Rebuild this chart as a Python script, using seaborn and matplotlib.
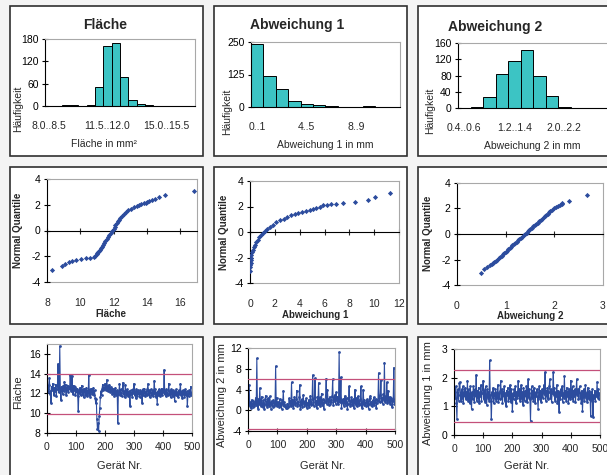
import matplotlib
matplotlib.use("Agg")
import matplotlib.pyplot as plt
import seaborn as sns
from matplotlib.patches import Rectangle

W, H = 607, 475

# --- histogram data -------------------------------------------------------
flaeche_edges = [8.0, 8.5, 9.0, 9.5, 10.0, 10.5, 11.0, 11.5, 12.0, 12.5,
                 13.0, 13.5, 14.0, 14.5, 15.0, 15.5, 16.0, 16.5, 17.0]
flaeche_counts = [1, 0, 2, 2, 1, 3, 50, 160, 168, 77, 15, 5, 2, 1, 1, 0, 0, 1]

abw1_edges = [0, 1, 2, 3, 4, 5, 6, 7, 8, 9, 10, 11, 12]
abw1_counts = [243, 120, 69, 24, 11, 6, 2, 1, 1, 2, 1, 1]

abw2_edges = [0.4, 0.6, 0.8, 1.0, 1.2, 1.4, 1.6, 1.8, 2.0, 2.2, 2.4, 2.6, 2.8]
abw2_counts = [1, 3, 26, 84, 115, 142, 79, 30, 3, 1, 0, 1]

# --- normal quantile plots ------------------------------------------------
qq_flaeche_x = [8.28, 8.9, 9.1, 9.3, 9.5, 9.75, 10.05, 10.35, 10.6, 10.8,
                10.9, 10.97, 11.02, 11.06, 11.11, 11.16, 11.22, 11.28, 11.35, 11.42,
                11.5, 11.57, 11.64, 11.73, 11.82, 11.92, 11.99, 12.05, 12.11, 12.17,
                12.24, 12.3, 12.37, 12.48, 12.6, 12.73, 12.88, 13.05, 13.22, 13.38,
                13.52, 13.67, 13.82, 13.92, 14.0, 14.1, 14.3, 14.48, 14.75, 15.08, 16.8]
qq_flaeche_y = [-3.08, -2.75, -2.58, -2.46, -2.37, -2.29, -2.23, -2.17, -2.12, -2.07,
                -2.0, -1.86, -1.78, -1.7, -1.6, -1.5, -1.38, -1.25, -1.1, -0.95,
                -0.8, -0.65, -0.5, -0.35, -0.2, -0.05, 0.1, 0.25, 0.4, 0.55,
                0.7, 0.85, 1.0, 1.15, 1.3, 1.45, 1.58, 1.7, 1.8, 1.88,
                1.95, 2.02, 2.1, 2.17, 2.23, 2.29, 2.37, 2.46, 2.58, 2.75, 3.08]

qq_abw1_x = [0.02, 0.03, 0.04, 0.05, 0.07, 0.09, 0.12, 0.16, 0.22, 0.3,
             0.38, 0.5, 0.62, 0.76, 0.9, 1.05, 1.2, 1.4, 1.6, 1.85,
             2.1, 2.4, 2.7, 3.0, 3.3, 3.6, 3.9, 4.2, 4.55, 4.85,
             5.1, 5.35, 5.6, 5.9, 6.2, 6.55, 6.95, 7.5, 8.42, 9.5, 10.05, 11.28]
qq_abw1_y = [-3.08, -2.75, -2.58, -2.4, -2.2, -2.0, -1.8, -1.6, -1.4, -1.2,
             -1.0, -0.8, -0.6, -0.4, -0.25, -0.1, 0.1, 0.27, 0.4, 0.58,
             0.76, 0.92, 1.05, 1.2, 1.33, 1.43, 1.48, 1.54, 1.64, 1.73,
             1.82, 1.91, 2.0, 2.08, 2.14, 2.2, 2.23, 2.29, 2.37, 2.5, 2.72, 3.06]

qq_abw2_x = [0.49, 0.56, 0.61, 0.67, 0.71, 0.74, 0.77, 0.8, 0.83, 0.86,
             0.88, 0.92, 0.94, 0.97, 1.0, 1.03, 1.05, 1.08, 1.11, 1.14,
             1.17, 1.2, 1.23, 1.25, 1.28, 1.31, 1.34, 1.37, 1.4, 1.43,
             1.46, 1.48, 1.51, 1.54, 1.57, 1.6, 1.63, 1.66, 1.69, 1.72,
             1.75, 1.78, 1.8, 1.83, 1.86, 1.89, 1.92, 1.95, 1.99, 2.03,
             2.08, 2.12, 2.15, 2.16, 2.3, 2.67]
qq_abw2_y = [-3.08, -2.75, -2.58, -2.46, -2.37, -2.29, -2.2, -2.1, -2.0, -1.9,
             -1.8, -1.7, -1.6, -1.5, -1.4, -1.3, -1.2, -1.1, -1.0, -0.9,
             -0.8, -0.7, -0.6, -0.5, -0.4, -0.3, -0.2, -0.1, 0.0, 0.1,
             0.2, 0.3, 0.4, 0.5, 0.6, 0.7, 0.8, 0.9, 1.0, 1.1,
             1.2, 1.3, 1.4, 1.5, 1.6, 1.7, 1.8, 1.9, 2.0, 2.1,
             2.2, 2.29, 2.37, 2.46, 2.58, 3.08]

# --- run charts (every second device) -------------------------------------
geraet = list(range(2, 501, 2))

run_flaeche = [
    12.4, 12.1, 12.9, 13.6, 12.2, 11.9, 11.0, 12.7, 12.3, 13.0,
    12.5, 11.8, 12.6, 12.2, 12.9, 11.7, 12.4, 12.8, 15.0, 12.1,
    12.6, 16.8, 12.3, 11.3, 12.7, 12.5, 11.9, 12.8, 12.2, 13.2,
    12.4, 12.9, 11.8, 12.6, 12.3, 12.8, 12.1, 12.7, 12.4, 13.9,
    12.6, 12.2, 13.8, 12.5, 11.9, 12.8, 12.3, 12.7, 11.8, 12.4,
    12.1, 12.5, 11.7, 10.2, 12.3, 12.0, 12.6, 11.8, 12.2, 12.8,
    11.9, 12.4, 11.6, 12.2, 12.5, 11.8, 12.1, 12.6, 11.7, 12.3,
    12.0, 13.9, 11.8, 12.4, 11.6, 12.2, 12.5, 11.9, 12.1, 12.6,
    11.8, 12.3, 11.5, 11.0, 11.4, 9.4, 8.4, 9.0, 8.2, 9.7,
    10.5, 11.6, 12.2, 11.8, 12.5, 12.9, 12.3, 12.6, 12.4, 13.0,
    12.7, 12.3, 13.4, 12.8, 12.2, 12.6, 12.9, 12.4, 12.1, 12.7,
    12.3, 11.9, 12.5, 12.0, 12.4, 11.7, 12.2, 12.6, 11.8, 12.1,
    12.3, 9.0, 11.9, 12.2, 13.0, 11.8, 12.4, 12.0, 11.7, 12.3,
    13.1, 11.9, 12.2, 11.6, 12.9, 12.1, 11.8, 12.4, 12.0, 11.7,
    12.2, 11.8, 10.7, 12.3, 11.9, 12.1, 11.6, 12.4, 12.0, 13.0,
    11.8, 12.2, 11.5, 12.4, 12.0, 11.7, 12.3, 11.9, 12.1, 11.6,
    12.3, 11.9, 12.2, 11.0, 12.4, 11.8, 12.1, 12.5, 11.7, 12.0,
    12.2, 11.8, 12.4, 13.0, 11.9, 12.3, 11.6, 12.1, 12.4, 11.8,
    12.0, 12.3, 11.7, 12.2, 13.3, 11.9, 12.4, 11.6, 12.1, 10.9,
    12.2, 11.8, 12.4, 12.0, 11.7, 12.3, 11.9, 12.5, 11.8, 12.1,
    12.3, 14.4, 11.9, 12.2, 11.7, 12.4, 12.0, 11.8, 12.3, 13.0,
    11.9, 12.2, 11.6, 12.4, 12.0, 11.8, 12.3, 11.7, 12.1, 11.2,
    12.2, 11.8, 12.4, 11.9, 12.1, 11.6, 12.3, 11.9, 12.2, 13.0,
    11.8, 12.2, 11.5, 12.3, 11.9, 12.1, 11.6, 12.4, 11.8, 12.0,
    12.2, 10.7, 12.0, 11.7, 12.3, 11.9, 12.1, 12.7, 11.8, 12.0,
]

run_abw_gross = [
    1.2, 4.8, 0.8, 1.5, 0.4, 2.0, 1.1, 0.7, 1.8, 1.3,
    0.9, 1.6, 2.4, 1.0, 10.0, 1.4, 0.3, 2.2, 1.2, 4.3,
    1.5, 0.8, 2.6, 1.1, 0.6, 1.9, 1.3, 0.2, 2.1, 2.8,
    1.0, 1.7, 0.6, 2.3, 1.2, 0.8, 2.7, 1.4, 0.3, 1.8,
    1.1, 0.7, 2.0, 1.5, 0.8, 1.3, 8.5, 1.0, 2.4, 0.9,
    1.6, 0.7, 1.2, 2.2, 0.9, 1.4, 0.3, 1.9, 1.1, 3.8,
    0.8, 1.5, 1.0, 0.5, 0.7, 0.4, 1.3, 0.6, 0.9, 2.3,
    1.2, 1.8, 0.9, 5.4, 1.1, 2.0, 0.4, 1.5, 2.6, 1.0,
    1.4, 2.2, 3.8, 0.9, 1.6, 1.1, 2.5, 4.9, 0.3, 1.3,
    2.1, 0.7, 1.5, 3.0, 1.2, 0.9, 1.8, 1.0, 2.3, 0.5,
    1.4, 1.1, 2.0, 0.7, 1.6, 2.8, 1.0, 1.3, 2.2, 6.8,
    1.5, 0.9, 2.4, 6.2, 1.1, 1.8, 0.4, 2.6, 1.3, 5.3,
    1.2, 2.5, 0.9, 1.7, 3.2, 1.0, 2.1, 1.4, 0.3, 1.9,
    1.6, 2.9, 6.1, 1.3, 4.0, 2.2, 1.0, 1.8, 2.6, 1.2,
    2.0, 1.5, 2.8, 6.0, 1.1, 2.4, 1.7, 3.0, 1.3, 3.5,
    1.8, 2.6, 1.2, 2.0, 11.2, 1.5, 2.3, 6.4, 0.5, 1.9,
    1.4, 2.2, 0.9, 1.7, 2.8, 1.1, 1.6, 2.4, 0.3, 1.3,
    2.0, 4.6, 1.2, 0.9, 1.8, 2.5, 1.0, 1.5, 2.1, 0.4,
    1.6, 4.0, 1.1, 2.3, 0.9, 1.4, 2.7, 1.0, 1.8, 1.2,
    2.2, 4.6, 1.3, 0.4, 1.7, 4.0, 1.1, 2.0, 1.4, 0.8,
    1.5, 2.1, 1.0, 1.8, 0.3, 1.3, 2.4, 2.8, 1.1, 1.6,
    0.9, 1.9, 1.2, 2.5, 1.0, 1.6, 2.2, 0.4, 1.4, 2.0,
    1.7, 7.2, 2.3, 1.5, 2.9, 5.8, 1.8, 2.4, 1.3, 3.1,
    2.0, 9.2, 1.6, 2.7, 1.9, 5.4, 1.4, 3.8, 2.2, 1.5,
    2.6, 1.2, 1.9, 2.4, 0.6, 1.7, 2.1, 8.2, 1.3, 1.6,
]

run_abw_fein = [
    1.5, 1.3, 1.7, 1.1, 0.55, 1.6, 1.4, 1.2, 1.8, 1.85,
    1.4, 1.2, 1.6, 1.3, 1.7, 1.1, 1.5, 1.35, 1.65, 1.25,
    1.5, 1.3, 1.9, 1.2, 1.6, 1.4, 1.1, 1.7, 1.3, 0.9,
    1.5, 1.25, 1.7, 1.4, 1.15, 1.6, 1.35, 2.1, 1.2, 1.55,
    1.3, 1.65, 1.1, 1.5, 1.35, 1.75, 1.2, 1.45, 1.6, 1.9,
    1.25, 1.55, 1.15, 1.7, 1.4, 1.05, 1.6, 1.3, 1.5, 1.2,
    2.6, 1.4, 1.2, 0.55, 1.5, 1.3, 1.65, 1.1, 1.45, 1.35,
    1.6, 1.2, 1.5, 1.3, 1.75, 1.15, 1.45, 1.25, 1.55, 1.9,
    1.3, 1.6, 1.1, 1.5, 1.35, 1.7, 1.2, 1.45, 1.0, 1.55,
    1.4, 1.65, 1.2, 1.5, 1.3, 1.75, 1.15, 1.6, 1.35, 0.85,
    1.45, 1.25, 1.6, 1.35, 1.7, 1.1, 1.5, 1.3, 1.55, 1.9,
    1.35, 1.6, 1.2, 1.45, 1.75, 1.25, 1.5, 1.05, 1.65, 1.4,
    1.2, 1.55, 1.35, 1.7, 1.15, 1.5, 1.95, 1.3, 1.6, 1.25,
    0.5, 1.45, 1.7, 1.3, 1.55, 1.2, 1.65, 1.4, 1.1, 1.5,
    1.35, 1.6, 1.25, 0.9, 1.5, 1.7, 1.3, 1.55, 1.15, 1.45,
    1.6, 1.3, 1.5, 1.75, 1.4, 2.2, 1.2, 1.55, 1.35, 1.65,
    1.25, 1.5, 1.7, 1.95, 1.3, 1.6, 1.15, 1.45, 1.55, 2.2,
    1.4, 1.65, 1.2, 1.5, 1.35, 1.75, 1.1, 1.55, 1.3, 0.8,
    1.5, 1.25, 1.6, 1.4, 1.7, 1.15, 1.45, 1.3, 2.05, 1.35,
    1.55, 1.2, 1.65, 1.35, 1.5, 1.1, 1.6, 1.4, 1.25, 1.9,
    1.45, 1.3, 1.7, 1.2, 1.55, 1.35, 1.6, 1.15, 1.5, 1.95,
    1.4, 1.6, 1.25, 1.5, 1.7, 1.3, 1.45, 1.1, 1.55, 0.85,
    1.35, 1.6, 1.2, 1.5, 1.75, 1.3, 1.45, 1.15, 1.65, 1.4,
    1.25, 1.55, 1.35, 0.65, 1.5, 1.2, 1.6, 0.62, 1.4, 1.3,
    1.55, 1.2, 1.5, 1.35, 1.85, 1.3, 1.6, 1.25, 1.45, 1.4,
]

limits_flaeche = [14.0, 9.9]
limits_abw_gross = [6.1, -3.6]
limits_abw_fein = [2.28, 0.47]

BAR = "#3cc4c4"
BLUE = "#2c4c9e"
RED = "#c4507a"
GREY = "#a8a8a8"
FS = 7.5

sns.set_theme(style="white")
plt.rcParams["font.family"] = ["Liberation Sans", "DejaVu Sans"]
plt.rcParams["axes.unicode_minus"] = False


def box(l, t, r, b):
    return [l / W, 1 - b / H, (r - l) / W, (b - t) / H]


def ftext(x, y, s, **kw):
    fig.text(x / W, 1 - y / H, s, ha="center", va="center", **kw)


def frame_axes(ax):
    for s in ax.spines.values():
        s.set_color(GREY)
        s.set_linewidth(0.8)
    ax.spines["left"].set_color("black")
    ax.tick_params(axis="y", left=True, direction="inout", length=5, width=0.8,
                   labelsize=FS, pad=2, colors="black")
    ax.set_xlabel("")
    ax.set_ylabel("")


def hist(ax, edges, counts, fmt, show, ymax, yticks):
    labels = [f"{a:{fmt}}..{b:{fmt}}" for a, b in zip(edges[:-1], edges[1:])]
    sns.barplot(x=labels, y=counts, color=BAR, saturation=1, width=1.0,
                edgecolor="black", linewidth=0.7, ax=ax)
    ax.set_xlim(-0.5, len(labels) - 0.5)
    ax.set_ylim(0, ymax)
    ax.set_yticks(yticks)
    ax.set_xticks(show)
    ax.set_xticklabels([labels[i] for i in show])
    frame_axes(ax)
    ax.spines["bottom"].set_color("black")
    ax.tick_params(axis="x", bottom=False, labelsize=FS, pad=5)


def qq(ax, xs, ys, xlim, xticks):
    sns.scatterplot(x=xs, y=ys, marker="D", s=7, color=BLUE, linewidth=0,
                    zorder=3, ax=ax)
    ax.set_xlim(xlim)
    ax.set_ylim(-4, 4)
    ax.set_yticks([-4, -2, 0, 2, 4])
    ax.set_xticks(xticks)
    frame_axes(ax)
    ax.spines["bottom"].set_position(("data", 0))
    ax.spines["bottom"].set_color("black")
    ax.tick_params(axis="x", bottom=True, direction="inout", length=5, width=0.8,
                   labelbottom=False)
    sec = ax.secondary_xaxis("bottom")
    sec.set_xticks(xticks)
    sec.tick_params(bottom=False, labelsize=FS, pad=5.5)
    sec.spines["bottom"].set_color(GREY)
    sec.spines["bottom"].set_linewidth(0.8)


def run(ax, values, limits, ylim, yticks):
    sns.lineplot(x=geraet, y=values, color=BLUE, linewidth=0.8, marker="o",
                 markersize=2, markeredgewidth=0, estimator=None, sort=False, ax=ax)
    for v in limits:
        ax.axhline(v, color=RED, linewidth=0.9, zorder=4)
    ax.set_xlim(0, 500)
    ax.set_ylim(ylim)
    ax.set_yticks(yticks)
    ax.set_xticks([0, 100, 200, 300, 400, 500])
    frame_axes(ax)
    ax.spines["bottom"].set_color("black")
    ax.tick_params(axis="x", bottom=True, direction="inout", length=5, width=0.8,
                   labelsize=FS, pad=4)


fig = plt.figure(figsize=(W / 100, H / 100), dpi=100, facecolor="#f4f4f4")

frames = [(10, 6, 203, 156), (214, 6, 407, 156), (418, 6, 620, 156),
          (10, 167, 203, 324), (214, 167, 407, 324), (418, 167, 620, 324),
          (10, 337, 203, 490), (214, 337, 407, 490), (418, 337, 620, 490)]
for l, t, r, b in frames:
    fig.add_artist(Rectangle((l / W, 1 - b / H), (r - l) / W, (b - t) / H,
                             transform=fig.transFigure, facecolor="white",
                             edgecolor="#303030", linewidth=1.2, zorder=-5))

# row 1: histograms
ax1 = fig.add_axes(box(45, 39, 195, 106))
hist(ax1, flaeche_edges, flaeche_counts, ".1f", [0, 7, 14], 180, [0, 60, 120, 180])
ax2 = fig.add_axes(box(251, 42, 400, 107))
hist(ax2, abw1_edges, abw1_counts, "d", [0, 4, 8], 250, [0, 125, 250])
ax3 = fig.add_axes(box(458, 43, 608, 108))
hist(ax3, abw2_edges, abw2_counts, ".1f", [0, 4, 8], 160, [0, 40, 80, 120, 160])

ftext(105, 25, "Fläche", fontsize=10, fontweight="bold")
ftext(297, 25, "Abweichung 1", fontsize=10, fontweight="bold")
ftext(495, 27, "Abweichung 2", fontsize=10, fontweight="bold")
ftext(104, 144, "Fläche in mm²", fontsize=7.5)
ftext(325, 145, "Abweichung 1 in mm", fontsize=7.5)
ftext(532, 146, "Abweichung 2 in mm", fontsize=7.5)
for x, y in [(18, 109), (227, 112), (430, 111)]:
    ftext(x, y, "Häufigkeit", fontsize=7.5, rotation=90)

# row 2: normal quantile plots
ax4 = fig.add_axes(box(47, 179, 197, 282))
qq(ax4, qq_flaeche_x, qq_flaeche_y, (8, 17), [8, 10, 12, 14, 16])
ax5 = fig.add_axes(box(250, 181, 399, 283))
qq(ax5, qq_abw1_x, qq_abw1_y, (0, 12), [0, 2, 4, 6, 8, 10, 12])
ax6 = fig.add_axes(box(457, 183, 603, 285))
qq(ax6, qq_abw2_x, qq_abw2_y, (0, 3), [0, 1, 2, 3])

ftext(111, 314, "Fläche", fontsize=7, fontweight="bold")
ftext(315, 315, "Abweichung 1", fontsize=7, fontweight="bold")
ftext(530, 316, "Abweichung 2", fontsize=7, fontweight="bold")
for x, y in [(18, 230), (224, 232), (428, 233)]:
    ftext(x, y, "Normal Quantile", fontsize=7, fontweight="bold", rotation=90)

# row 3: run charts
ax7 = fig.add_axes(box(47, 344, 192, 433))
run(ax7, run_flaeche, limits_flaeche, (8, 17), [8, 10, 12, 14, 16])
ax8 = fig.add_axes(box(248, 348, 395, 431))
run(ax8, run_abw_gross, limits_abw_gross, (-4, 12), [-4, 0, 4, 8, 12])
ax9 = fig.add_axes(box(454, 349, 600, 435))
run(ax9, run_abw_fein, limits_abw_fein, (0, 3), [0, 1, 2, 3])

for x in [120, 323, 527]:
    ftext(x, 466, "Gerät Nr.", fontsize=8)
ftext(18, 392, "Fläche", fontsize=8, rotation=90)
ftext(222, 395, "Abweichung 2 in mm", fontsize=8, rotation=90)
ftext(428, 393, "Abweichung 1 in mm", fontsize=8, rotation=90)

fig.savefig("out.png", dpi=100, facecolor=fig.get_facecolor())
